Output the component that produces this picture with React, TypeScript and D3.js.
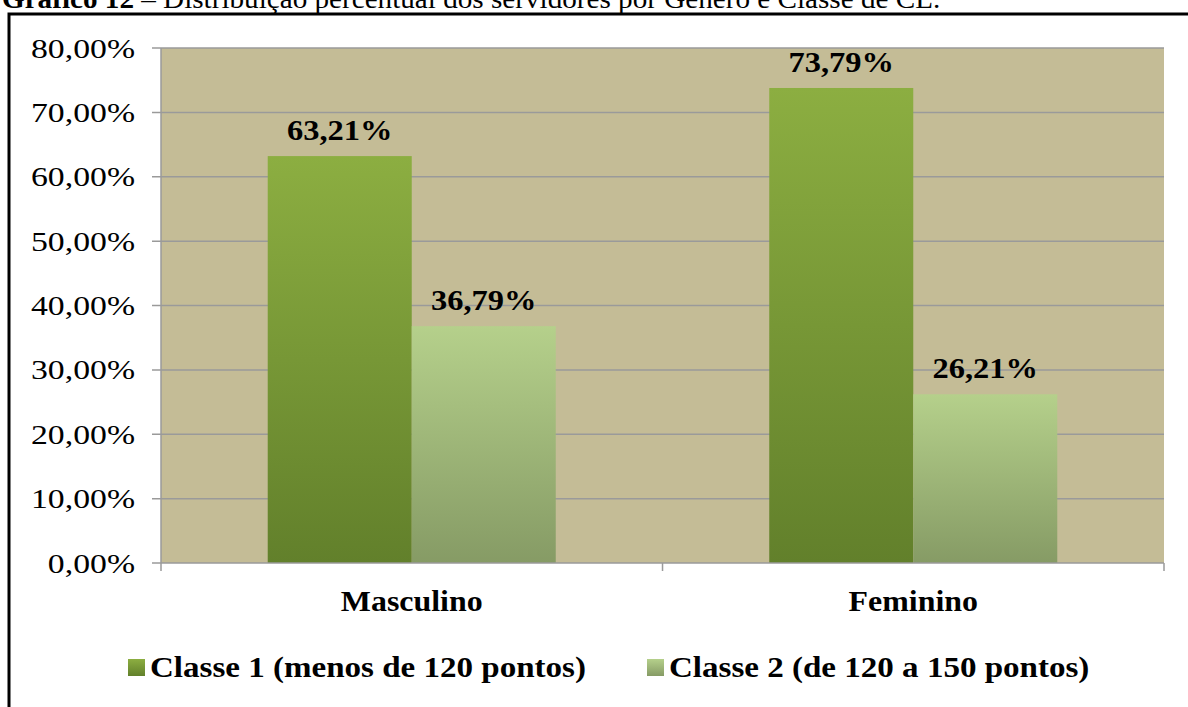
import React from "react";
import * as d3 from "d3";

const categories = ["Masculino", "Feminino"];
const seriesNames = ["Classe 1 (menos de 120 pontos)", "Classe 2 (de 120 a 150 pontos)"];
const classe1 = [63.21, 73.79];
const classe2 = [36.79, 26.21];
const yTicks = [0, 10, 20, 30, 40, 50, 60, 70, 80];

const width = 1188;
const height = 707;
const margin = { top: 48, right: 24, bottom: 144, left: 161 };

const gradients = [
  { id: "g1", top: "#8CAE41", bottom: "#62802B" },
  { id: "g2", top: "#B5D08B", bottom: "#869B65" },
];

const fmt = (v: number) => v.toFixed(2).replace(".", ",") + "%";

const App: React.FC = () => {
  const x0 = d3
    .scaleBand<string>()
    .domain(categories)
    .range([margin.left, width - margin.right])
    .paddingInner(0.4257)
    .paddingOuter(0.2128);

  const x1 = d3
    .scaleBand<number>()
    .domain([0, 1])
    .range([0, x0.bandwidth()]);

  const y = d3
    .scaleLinear()
    .domain([0, 80])
    .range([height - margin.bottom, margin.top]);

  const series = [classe1, classe2];
  const plotLeft = margin.left;
  const plotRight = width - margin.right;
  const step = x0.step();
  const catTicks = [plotLeft, plotLeft + step, plotRight];

  const serif = "'Liberation Serif', 'Times New Roman', serif";

  return (
    <svg
      width={width}
      height={height}
      style={{ position: "absolute", left: 0, top: 0, background: "#fff" }}
      fontFamily={serif}
    >
      <defs>
        {gradients.map((g) => (
          <linearGradient key={g.id} id={g.id} x1="0" y1="0" x2="0" y2="1">
            <stop offset="0%" stopColor={g.top} />
            <stop offset="100%" stopColor={g.bottom} />
          </linearGradient>
        ))}
      </defs>

      {/* title (cut by the top edge, as in the source) */}
      <text transform="translate(2,8) scale(1.08,1)" fontSize={27} fill="#000">
        <tspan fontWeight="bold">Gráfico 12</tspan>
        <tspan> – Distribuição percentual dos servidores por Gênero e Classe de CL.</tspan>
      </text>

      {/* outer frame */}
      <rect x={9} y={14} width={1300} height={800} fill="none" stroke="#000" strokeWidth={3} />

      {/* plot area */}
      <rect
        x={plotLeft}
        y={margin.top}
        width={plotRight - plotLeft}
        height={y(0) - margin.top}
        fill="#C4BC96"
      />

      {/* gridlines + y ticks */}
      {yTicks.map((t) => (
        <g key={t}>
          <line
            x1={plotLeft - 9}
            x2={t === 0 ? plotLeft : plotRight}
            y1={y(t)}
            y2={y(t)}
            stroke="#9A9A9A"
            strokeWidth={1.5}
          />
          <text
            transform={`translate(135,${y(t) + 9.5}) scale(1.25,1)`}
            textAnchor="end"
            fontSize={27}
            fill="#000"
          >
            {fmt(t)}
          </text>
        </g>
      ))}

      {/* bars */}
      {categories.map((c, i) => (
        <g key={c} transform={`translate(${x0(c)},0)`}>
          {series.map((s, j) => (
            <rect
              key={j}
              x={x1(j)}
              y={y(s[i])}
              width={x1.bandwidth()}
              height={y(0) - y(s[i])}
              fill={`url(#${gradients[j].id})`}
            />
          ))}
        </g>
      ))}

      {/* axes lines */}
      <line x1={plotLeft} x2={plotLeft} y1={margin.top} y2={y(0)} stroke="#9A9A9A" strokeWidth={1.5} />
      <line x1={plotLeft} x2={plotRight} y1={y(0)} y2={y(0)} stroke="#9A9A9A" strokeWidth={1.5} />
      {catTicks.map((t, i) => (
        <line key={i} x1={t} x2={t} y1={y(0)} y2={y(0) + 8} stroke="#9A9A9A" strokeWidth={1.5} />
      ))}

      {/* data labels */}
      {categories.map((c, i) =>
        series.map((s, j) => (
          <text
            key={`${c}-${j}`}
            transform={`translate(${(x0(c) ?? 0) + (x1(j) ?? 0) + x1.bandwidth() / 2},${y(s[i]) - 16}) scale(1.12,1)`}
            textAnchor="middle"
            fontSize={29}
            fontWeight="bold"
            fill="#000"
          >
            {fmt(s[i])}
          </text>
        ))
      )}

      {/* category labels */}
      {categories.map((c) => (
        <text
          key={c}
          transform={`translate(${(x0(c) ?? 0) + x0.bandwidth() / 2},611) scale(1.1,1)`}
          textAnchor="middle"
          fontSize={29}
          fontWeight="bold"
          fill="#000"
        >
          {c}
        </text>
      ))}

      {/* legend */}
      {seriesNames.map((name, j) => {
        const lx = j === 0 ? 128 : 647;
        return (
          <g key={name} transform={`translate(${lx},0)`}>
            <rect x={0} y={659} width={17} height={17} fill={`url(#${gradients[j].id})`} />
            <text
              transform="translate(22,677) scale(1.14,1)"
              fontSize={29}
              fontWeight="bold"
              fill="#000"
            >
              {name}
            </text>
          </g>
        );
      })}
    </svg>
  );
};

export default App;
